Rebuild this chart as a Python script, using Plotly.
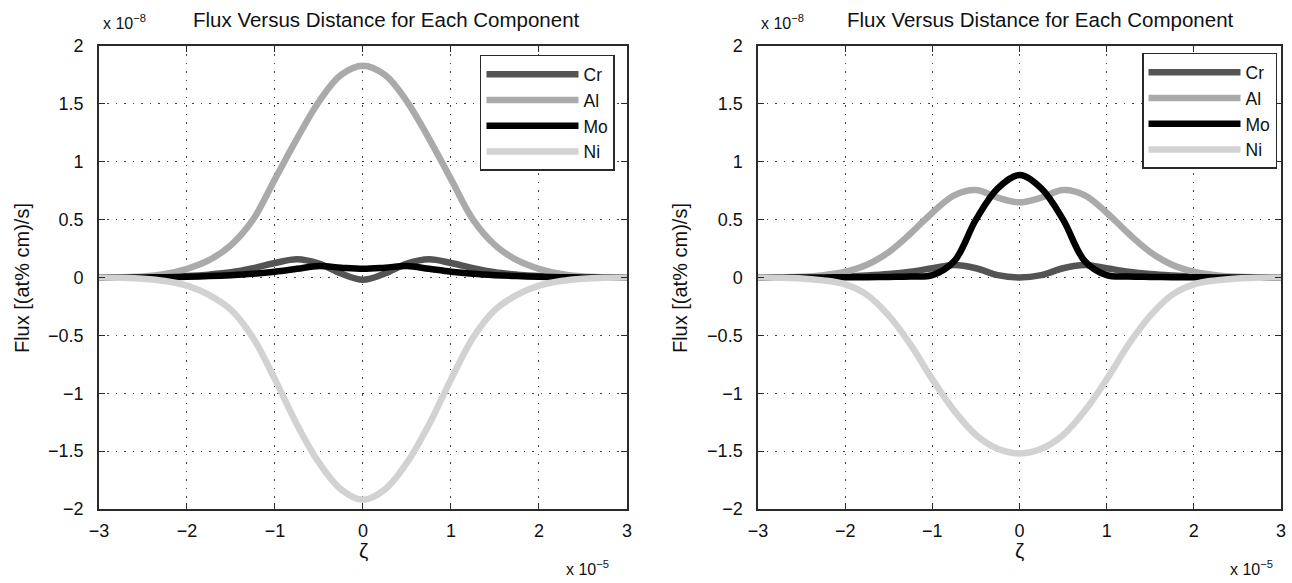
import plotly.graph_objects as go

# zeta in units of 1e-5, flux in units of 1e-8
zeta = [-3, -2.75, -2.5, -2.25, -2, -1.75, -1.5, -1.25, -1, -0.75, -0.5, -0.25, 0,
        0.25, 0.5, 0.75, 1, 1.25, 1.5, 1.75, 2, 2.25, 2.5, 2.75, 3]

left_cr = [0, 0, 0.002, 0.005, 0.012, 0.025, 0.045, 0.08, 0.125, 0.158, 0.12, 0.035, -0.02,
           0.035, 0.12, 0.158, 0.125, 0.08, 0.045, 0.025, 0.012, 0.005, 0.002, 0, 0]
left_al = [0, 0.002, 0.008, 0.03, 0.075, 0.15, 0.28, 0.5, 0.85, 1.2, 1.52, 1.75, 1.83,
           1.75, 1.52, 1.2, 0.85, 0.5, 0.28, 0.15, 0.075, 0.03, 0.008, 0.002, 0]
left_mo = [0, 0, 0.001, 0.003, 0.007, 0.012, 0.02, 0.032, 0.05, 0.075, 0.1, 0.085, 0.075,
           0.085, 0.1, 0.075, 0.05, 0.032, 0.02, 0.012, 0.007, 0.003, 0.001, 0, 0]
left_ni = [0, -0.002, -0.01, -0.03, -0.07, -0.15, -0.28, -0.52, -0.88, -1.27, -1.6, -1.83, -1.92,
           -1.83, -1.6, -1.27, -0.88, -0.52, -0.28, -0.15, -0.07, -0.03, -0.01, -0.002, 0]

right_cr = [0, 0, 0.002, 0.005, 0.01, 0.018, 0.03, 0.05, 0.08, 0.108, 0.08, 0.02, 0.0,
            0.02, 0.08, 0.108, 0.08, 0.05, 0.03, 0.018, 0.01, 0.005, 0.002, 0, 0]
right_al = [0, 0.002, 0.006, 0.02, 0.05, 0.11, 0.22, 0.38, 0.56, 0.71, 0.755, 0.69, 0.65,
            0.69, 0.755, 0.71, 0.56, 0.38, 0.22, 0.11, 0.05, 0.02, 0.006, 0.002, 0]
right_mo = [0, 0, 0, 0.001, 0.002, 0.003, 0.005, 0.008, 0.02, 0.14, 0.5, 0.77, 0.885,
            0.77, 0.5, 0.14, 0.02, 0.008, 0.005, 0.003, 0.002, 0.001, 0, 0, 0]
right_ni = [0, -0.002, -0.008, -0.025, -0.06, -0.15, -0.33, -0.58, -0.88, -1.15, -1.36, -1.48, -1.52,
            -1.48, -1.36, -1.15, -0.88, -0.58, -0.33, -0.15, -0.06, -0.025, -0.008, -0.002, 0]

names = ["Cr", "Al", "Mo", "Ni"]
colors = ["#545454", "#aaaaaa", "#000000", "#d2d2d2"]

x_ticks = [-3, -2, -1, 0, 1, 2, 3]
y_ticks = [-2, -1.5, -1, -0.5, 0, 0.5, 1, 1.5, 2]
y_ticktext = ["\u22122", "\u22121.5", "\u22121", "\u22120.5", "0", "0.5", "1", "1.5", "2"]

title_text = "Flux Versus Distance for Each Component"
ylabel = "Flux [(at% cm)/s]"
xlabel = "\u03b6"

FONT = "Liberation Sans, Arial, Helvetica, sans-serif"

fig = go.Figure()

left_series = [left_cr, left_al, left_mo, left_ni]
right_series = [right_cr, right_al, right_mo, right_ni]
for i, (nm, col) in enumerate(zip(names, colors)):
    fig.add_trace(go.Scatter(x=zeta, y=left_series[i], mode="lines",
                             name=nm, line=dict(color=col, width=6.5, shape="spline", smoothing=1.0),
                             xaxis="x", yaxis="y", legend="legend"))
for i, (nm, col) in enumerate(zip(names, colors)):
    fig.add_trace(go.Scatter(x=zeta, y=right_series[i], mode="lines",
                             name=nm, line=dict(color=col, width=6.5, shape="spline", smoothing=1.0),
                             xaxis="x2", yaxis="y2", legend="legend2"))

axis_common = dict(showline=True, linecolor="#2a2a2a", linewidth=1.5, mirror="ticks",
                   ticks="inside", ticklen=6, tickcolor="#2a2a2a", showgrid=True,
                   gridcolor="#444444", gridwidth=1, griddash="1.5px,7px", zeroline=False,
                   automargin=False, ticklabeloverflow="allow",
                   tickfont=dict(family=FONT, size=18, color="#111111"))
xaxis_extra = dict(ticklabelstandoff=5)
yaxis_extra = dict(ticklabelstandoff=10)

W, H = 1292, 583
dom_y = [0.1269, 0.9211]
legend_common = dict(xanchor="right", yanchor="top", bgcolor="white",
                     bordercolor="#2a2a2a", borderwidth=1.5, font=dict(family=FONT, size=17.5),
                     tracegroupgap=0, itemwidth=92)
fig.update_layout(
    width=W, height=H,
    margin=dict(l=0, r=0, t=0, b=0, autoexpand=False),
    paper_bgcolor="white", plot_bgcolor="white",
    font=dict(family=FONT, color="#111111"),
    xaxis=dict(domain=[0.0766, 0.4853], range=[-3, 3], tickvals=x_ticks, anchor="y",
               **axis_common, **xaxis_extra),
    yaxis=dict(domain=dom_y, range=[-2, 2], tickvals=y_ticks, ticktext=y_ticktext, anchor="x",
               **axis_common, **yaxis_extra),
    xaxis2=dict(domain=[0.5867, 0.9915], range=[-3, 3], tickvals=x_ticks, anchor="y2",
                **axis_common, **xaxis_extra),
    yaxis2=dict(domain=dom_y, range=[-2, 2], tickvals=y_ticks, ticktext=y_ticktext, anchor="x2",
                **axis_common, **yaxis_extra),
    legend=dict(x=0.476, y=0.9057, **legend_common),
    legend2=dict(x=0.9884, y=0.9091, **legend_common),
    showlegend=True,
)

annots = []
panels = [
    dict(xc=0.2988, xz=0.281, x8=0.096, yl=0.017, x5=0.455),
    dict(xc=0.805, xz=0.7887, x8=0.606, yl=0.5263, x5=0.969),
]
for p in panels:
    annots.append(dict(text=title_text, x=p["xc"], y=0.9657, xref="paper", yref="paper",
                       xanchor="center", yanchor="middle", showarrow=False,
                       font=dict(size=20.5, family=FONT)))
    annots.append(dict(text="x 10<sup>\u22128</sup>", x=p["x8"], y=0.9623, xref="paper", yref="paper",
                       xanchor="center", yanchor="middle", showarrow=False,
                       font=dict(size=16, family=FONT)))
    annots.append(dict(text=ylabel, x=p["yl"], y=0.523, xref="paper", yref="paper", textangle=-90,
                       xanchor="center", yanchor="middle", showarrow=False,
                       font=dict(size=20, family=FONT)))
    annots.append(dict(text=xlabel, x=p["xz"], y=0.055, xref="paper", yref="paper",
                       xanchor="center", yanchor="middle", showarrow=False,
                       font=dict(size=21, family=FONT)))
    annots.append(dict(text="x 10<sup>\u22125</sup>", x=p["x5"], y=0.0257, xref="paper", yref="paper",
                       xanchor="center", yanchor="middle", showarrow=False,
                       font=dict(size=16, family=FONT)))
fig.update_layout(annotations=annots)

# remove the page's default body margin so the 1292x583 figure fills the window exactly
fig.write_html("out.html", config={"displayModeBar": False},
               post_script="document.body.style.margin='0px';document.body.style.overflow='hidden';")
